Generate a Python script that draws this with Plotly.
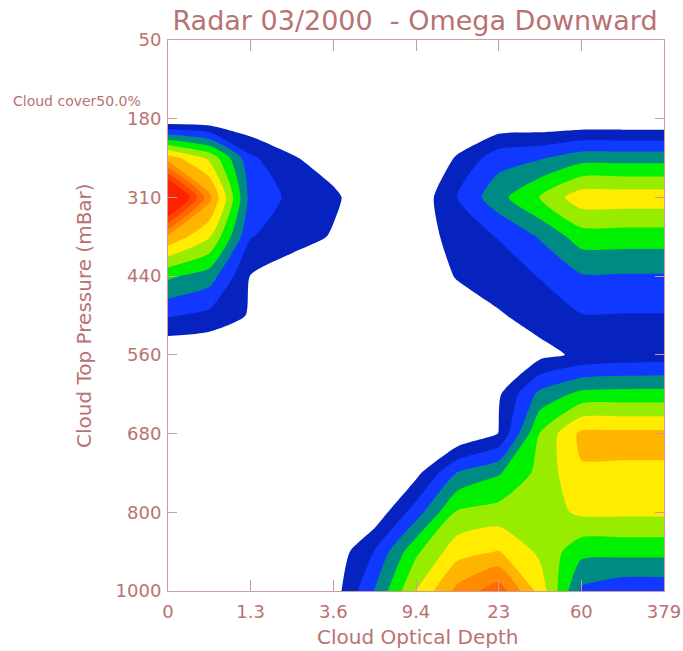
import plotly.graph_objects as go

# Joint histogram of cloud optical depth vs cloud top pressure (bin-index space)
tau_labels = ["0", "1.3", "3.6", "9.4", "23", "60", "379"]
ctp_labels = ["50", "180", "310", "440", "560", "680", "800", "1000"]

# grid nodes (bin-edge index units, half-bin spacing)
tau_nodes = [0, 0.5, 1, 1.5, 2, 2.5, 3, 3.5, 4, 4.5, 5, 5.5, 6]
ctp_nodes = [1, 1.5, 2, 2.5, 3, 3.5, 4, 4.5, 5, 5.5, 6, 6.5, 7]

# frequency values, one row per pressure node (top to bottom)
row_180 = [0, 0, 0, 0, 0, 0, 0, 0, 0, 0, 0, 0, 0]
row_245 = [7.5, 5.8, 2.2, 1.1, 0.5, 0, 0, 1.1, 2.6, 2.9, 3.6, 3.6, 3.6]
row_310 = [14.0, 8.3, 2.6, 1.8, 1.2, 0.2, 0.2, 2.05, 3.65, 5.1, 6.6, 6.6, 6.6]
row_375 = [7.8, 6.1, 2.05, 1.5, 0.9, 0, 0.3, 1.5, 2.05, 3.1, 4.5, 4.5, 4.5]
row_440 = [4.2, 3.5, 0.95, 0.3, 0, 0, 0, 1.1, 1.5, 2.05, 2.9, 2.9, 2.9]
row_500 = [2.1, 1.7, 0.9, 0, 0, 0, 0, 0.2, 0.9, 1.4, 1.95, 1.95, 1.95]
row_560 = [0, 0, 0, 0, 0, 0, 0, 0, 0, 0.7, 1.2, 1.4, 1.5]
row_620 = [0, 0, 0, 0, 0, 0, 0, 0, 0.85, 3.3, 4.3, 4.4, 4.4]
row_680 = [0, 0, 0, 0, 0, 0, 0, 0, 1.02, 5.05, 7.25, 7.25, 7.25]
row_740 = [0, 0, 0, 0, 0, 0, 0.7, 3.05, 3.9, 5.3, 6.88, 6.88, 6.88]
row_800 = [0, 0, 0, 0, 0, 0.3, 2.5, 5.15, 5.4, 5.5, 6.2, 6.2, 6.2]
row_900 = [0, 0, 0, 0, 0.3, 2.05, 4.8, 6.6, 7.05, 5.8, 4.3, 4.3, 4.3]
row_1000 = [0, 0, 0, 0, 0.5, 3.05, 6.05, 8.3, 9.6, 6.6, 2.8, 2.3, 2.3]

freq = [row_180, row_245, row_310, row_375, row_440, row_500, row_560,
        row_620, row_680, row_740, row_800, row_900, row_1000]

# fill colours, one per band (below first level is blank)
band_colors = ["#ffffff", "#0623c0", "#1038ff", "#008a84", "#00f000",
               "#98ec00", "#ffec00", "#ffb400", "#ff8c00", "#ff6800",
               "#ff4400", "#ff2200"]

n = len(band_colors) - 1
colorscale = []
for j, c in enumerate(band_colors):
    lo = max(0.0, (j - 0.5) / n)
    hi = min(1.0, (j + 0.5) / n)
    colorscale.append([lo, c])
    colorscale.append([hi, c])

text_color = "#b87272"
line_color = "#d09a9a"
font_family = "DejaVu Sans"


def tfont(size):
    return dict(size=size, color=text_color, family=font_family)


fig = go.Figure(
    go.Contour(
        x=tau_nodes,
        y=ctp_nodes,
        z=freq,
        contours=dict(start=1, end=11, size=1, coloring="fill", showlines=False),
        colorscale=colorscale,
        showscale=False,
        line=dict(width=0, smoothing=0.6),
        hoverinfo="skip",
    )
)

axis_common = dict(
    tickmode="array",
    ticks="inside", tickcolor=line_color, tickwidth=1,
    showline=True, linecolor=line_color, linewidth=1, mirror="ticks",
    showgrid=False, zeroline=False, automargin=False,
    tickfont=tfont(18),
)

fig.update_layout(
    width=683,
    height=651,
    margin=dict(l=168, r=19, t=40, b=60),
    paper_bgcolor="white",
    plot_bgcolor="white",
    font=dict(family=font_family, color=text_color),
    title=dict(
        text="Radar 03/2000 \u00a0- Omega Downward",
        font=tfont(27),
        x=415 / 683, xanchor="center", xref="container",
        y=1 - 21 / 651, yanchor="middle", yref="container",
    ),
    xaxis=dict(
        range=[0, 6],
        tickvals=list(range(len(tau_labels))),
        ticktext=tau_labels,
        ticklen=11,
        ticklabelstandoff=4,
        **axis_common,
    ),
    yaxis=dict(
        range=[7, 0],
        tickvals=list(range(len(ctp_labels))),
        ticktext=ctp_labels,
        ticklen=9,
        ticklabelstandoff=2,
        **axis_common,
    ),
    annotations=[
        dict(text="Cloud cover50.0%", xref="paper", yref="paper",
             x=(11 - 168) / 496, y=(591 - 101) / 551,
             xanchor="left", yanchor="middle", showarrow=False,
             font=tfont(14)),
        dict(text="Cloud Optical Depth", xref="paper", yref="paper",
             x=(417 - 168) / 496, y=(591 - 637) / 551,
             xanchor="center", yanchor="middle", showarrow=False,
             font=tfont(20)),
        dict(text="Cloud Top Pressure (mBar)", xref="paper", yref="paper",
             x=(84 - 168) / 496, y=(591 - 316) / 551,
             xanchor="center", yanchor="middle", showarrow=False, textangle=-90,
             font=tfont(20)),
    ],
)

fig.write_html("out.html")
